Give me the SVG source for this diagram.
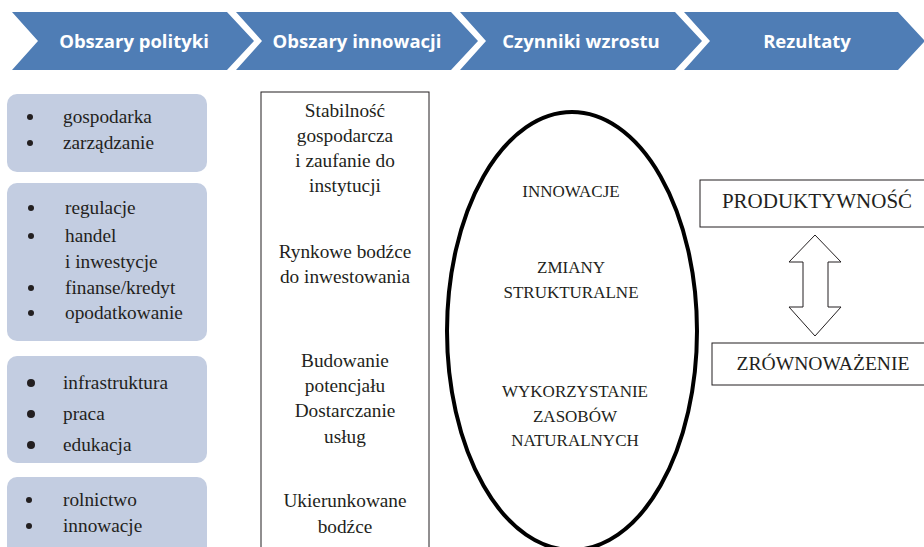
<svg xmlns="http://www.w3.org/2000/svg" width="924" height="547" viewBox="0 0 924 547">
<style>
.chev{fill:#4f7db5}
.ht{font-family:"Open Sans","Liberation Sans",sans-serif;font-weight:bold;font-size:18.5px;fill:#fff;text-anchor:middle}
.lb{fill:#c3cde1}
.t{font-family:"Liberation Serif",serif;font-size:19.3px;fill:#231f20}
.c{font-family:"Liberation Serif",serif;font-size:19.3px;fill:#231f20;text-anchor:middle}
.u{font-family:"Liberation Serif",serif;font-size:17px;fill:#231f20;text-anchor:middle}
.r{font-family:"Liberation Serif",serif;font-size:21px;fill:#231f20;text-anchor:middle}
.bx{fill:#fff;stroke:#231f20;stroke-width:1}
.bl{fill:#231f20}
</style>
<g id="header">
<polygon class="chev" points="12,12 227,12 254,41 227,70 12,70 38,41"/>
<polygon class="chev" points="236,12 451,12 478,41 451,70 236,70 262,41"/>
<polygon class="chev" points="460,12 675,12 702,41 675,70 460,70 486,41"/>
<polygon class="chev" points="684,12 898,12 925,41 898,70 684,70 710,41"/>
<text class="ht" x="134" y="48">Obszary polityki</text>
<text class="ht" x="357" y="48">Obszary innowacji</text>
<text class="ht" x="581" y="48">Czynniki wzrostu</text>
<text class="ht" x="807" y="48">Rezultaty</text>
</g>
<g id="policy1">
<rect class="lb" x="7" y="94" width="200" height="78" rx="10"/>
<circle class="bl" cx="30" cy="117" r="3"/><text class="t" x="63" y="123">gospodarka</text>
<circle class="bl" cx="30" cy="143" r="3"/><text class="t" x="63" y="149">zarządzanie</text>
</g>
<g id="policy2">
<rect class="lb" x="7" y="183" width="200" height="158" rx="10"/>
<circle class="bl" cx="31" cy="208" r="3"/><text class="t" x="65" y="214">regulacje</text>
<circle class="bl" cx="31" cy="236" r="3"/><text class="t" x="65" y="242">handel</text>
<text class="t" x="65" y="268">i inwestycje</text>
<circle class="bl" cx="31" cy="288" r="3"/><text class="t" x="65" y="294">finanse/kredyt</text>
<circle class="bl" cx="31" cy="313" r="3"/><text class="t" x="65" y="319">opodatkowanie</text>
</g>
<g id="policy3">
<rect class="lb" x="7" y="356" width="200" height="107" rx="10"/>
<circle class="bl" cx="31" cy="383" r="4"/><text class="t" x="63" y="389">infrastruktura</text>
<circle class="bl" cx="31" cy="414" r="4"/><text class="t" x="63" y="420">praca</text>
<circle class="bl" cx="31" cy="445" r="4"/><text class="t" x="63" y="451">edukacja</text>
</g>
<g id="policy4">
<rect class="lb" x="7" y="477" width="200" height="85" rx="10"/>
<circle class="bl" cx="29" cy="500" r="3"/><text class="t" x="63" y="506">rolnictwo</text>
<circle class="bl" cx="29" cy="526" r="3"/><text class="t" x="63" y="532">innowacje</text>
</g>
<g id="innovation">
<rect class="bx" x="261" y="92" width="168" height="470"/>
<text class="c" x="345" y="117">Stabilność</text>
<text class="c" x="345" y="142">gospodarcza</text>
<text class="c" x="345" y="167">i zaufanie do</text>
<text class="c" x="345" y="192">instytucji</text>
<text class="c" x="345" y="258">Rynkowe bodźce</text>
<text class="c" x="345" y="283">do inwestowania</text>
<text class="c" x="345" y="367">Budowanie</text>
<text class="c" x="345" y="392">potencjału</text>
<text class="c" x="345" y="417">Dostarczanie</text>
<text class="c" x="345" y="443">usług</text>
<text class="c" x="345" y="507">Ukierunkowane</text>
<text class="c" x="345" y="533">bodźce</text>
</g>
<g id="growth">
<ellipse cx="572" cy="331" rx="125" ry="219" fill="none" stroke="#000" stroke-width="4"/>
<text class="u" x="571" y="197">INNOWACJE</text>
<text class="u" x="571" y="273">ZMIANY</text>
<text class="u" x="571" y="298">STRUKTURALNE</text>
<text class="u" x="575" y="397">WYKORZYSTANIE</text>
<text class="u" x="575" y="422">ZASOBÓW</text>
<text class="u" x="575" y="446">NATURALNYCH</text>
</g>
<g id="productivity">
<rect class="bx" x="700" y="180" width="230" height="47"/>
<text class="r" x="817" y="208">PRODUKTYWNOŚĆ</text>
</g>
<g id="sustainability">
<rect class="bx" x="712" y="343" width="220" height="42"/>
<text class="r" x="823" y="370" style="font-size:19.6px">ZRÓWNOWAŻENIE</text>
</g>
<g id="connectors">
<polygon class="bx" points="815,235 841,262 828,262 828,307 841,307 815,336 789,307 803,307 803,262 789,262"/>
</g>
</svg>
